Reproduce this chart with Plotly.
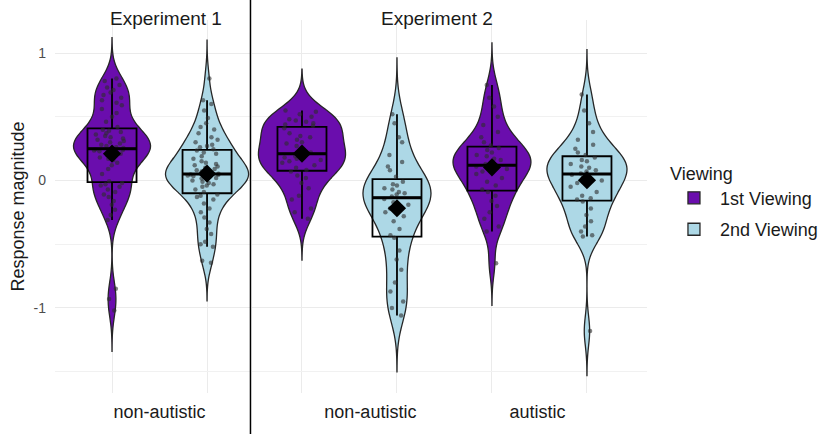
import numpy as np
import plotly.graph_objects as go

# ---- data -------------------------------------------------------------
experiments = ["Experiment 1", "Experiment 2"]
exp1_groups = ["non-autistic"]
exp2_groups = ["non-autistic", "autistic"]
viewings = ["1st Viewing", "2nd Viewing"]

# response magnitude per participant
exp1_nonaut_1st = [-1.02, -0.93, -0.85, -0.31, -0.27, -0.23, -0.19, -0.16, -0.13, -0.11, -0.09, -0.07,
                   -0.05, -0.04, -0.03, -0.02, -0.005, 0.05, 0.09, 0.12, 0.14, 0.16, 0.17, 0.18,
                   0.19, 0.20, 0.21, 0.22, 0.23, 0.235, 0.24, 0.245, 0.255, 0.26, 0.27, 0.28,
                   0.29, 0.30, 0.31, 0.32, 0.33, 0.34, 0.35, 0.36, 0.37, 0.38, 0.39, 0.398,
                   0.42, 0.46, 0.50, 0.53, 0.56, 0.59, 0.61, 0.63, 0.65, 0.67, 0.69, 0.71,
                   0.73, 0.75, 0.78, 0.80]
exp1_nonaut_2nd = [-0.645, -0.63, -0.52, -0.50, -0.48, -0.42, -0.38, -0.33, -0.29, -0.25, -0.22, -0.18,
                   -0.15, -0.13, -0.12, -0.11, -0.09, -0.07, -0.05, -0.04, -0.03, -0.02, -0.01, 0.00,
                   0.01, 0.015, 0.02, 0.03, 0.035, 0.04, 0.045, 0.048, 0.052, 0.06, 0.07, 0.08,
                   0.09, 0.10, 0.11, 0.12, 0.13, 0.14, 0.15, 0.17, 0.19, 0.21, 0.22, 0.235,
                   0.245, 0.26, 0.27, 0.28, 0.30, 0.32, 0.34, 0.37, 0.40, 0.42, 0.45, 0.49,
                   0.55, 0.60, 0.63, 0.80]
exp2_nonaut_1st = [-0.30, -0.25, -0.22, -0.15, -0.12, -0.06, -0.02, 0.02, 0.04, 0.07,
                   0.083, 0.10, 0.12, 0.14, 0.15, 0.16, 0.17, 0.18, 0.19, 0.20,
                   0.22, 0.24, 0.27, 0.29, 0.30, 0.32, 0.34, 0.35, 0.37, 0.41,
                   0.43, 0.44, 0.45, 0.46, 0.47, 0.48, 0.50, 0.52, 0.54, 0.55]
exp2_nonaut_2nd = [-1.06, -1.00, -0.95, -0.87, -0.80, -0.70, -0.62, -0.55, -0.45,
                   -0.43, -0.38, -0.32, -0.28, -0.25, -0.22, -0.19, -0.17, -0.145,
                   -0.125, -0.11, -0.10, -0.09, -0.07, -0.06, -0.04, -0.03, -0.01,
                   0.03, 0.08, 0.11, 0.145, 0.20, 0.30, 0.34, 0.45, 0.52]
exp2_aut_1st = [-0.65, -0.40, -0.36, -0.30, -0.25, -0.20, -0.16, -0.12, -0.09,
                -0.07, -0.04, -0.01, 0.02, 0.05, 0.07, 0.09, 0.10, 0.11,
                0.13, 0.14, 0.16, 0.17, 0.19, 0.20, 0.22, 0.24, 0.255,
                0.275, 0.30, 0.34, 0.38, 0.435, 0.50, 0.58, 0.65, 0.75]
exp2_aut_2nd = [-1.18, -0.44, -0.43, -0.40, -0.36, -0.32, -0.27, -0.22, -0.165,
                -0.15, -0.14, -0.12, -0.09, -0.05, -0.02, 0.00, 0.02, 0.045,
                0.055, 0.07, 0.08, 0.10, 0.11, 0.13, 0.15, 0.16, 0.18,
                0.20, 0.22, 0.25, 0.28, 0.32, 0.38, 0.45, 0.55, 0.675]

# ---- styling ----------------------------------------------------------
FILL = {"1st Viewing": "#6A0DAD", "2nd Viewing": "#ADD8E6"}
OUTLINE = "#262626"
DODGE = 0.25            # offset of each viewing from its group centre
BOX_W = 0.258           # inner box width (data units)
FONT = "Liberation Sans, Arial, sans-serif"

panels = [
    dict(xaxis="x", groups=exp1_groups,
         series=[[exp1_nonaut_1st, exp1_nonaut_2nd]],
         bw=[[0.107, 0.100]], width=[[0.405, 0.437]]),
    dict(xaxis="x2", groups=exp2_groups,
         series=[[exp2_nonaut_1st, exp2_nonaut_2nd], [exp2_aut_1st, exp2_aut_2nd]],
         bw=[[0.108, 0.147], [0.110, 0.117]], width=[[0.458, 0.358], [0.410, 0.421]]),
]

fig = go.Figure()
shown = set()
for panel in panels:
    mean_x, mean_y, grid_x = [], [], []
    med_x, med_y = [], []
    for gi, group in enumerate(panel["groups"]):
        centre = gi + 1
        for vi, viewing in enumerate(viewings):
            vals = panel["series"][gi][vi]
            bw = panel["bw"][gi][vi]
            w = panel["width"][gi][vi]
            pos = centre + (vi - 0.5) * 2 * DODGE
            grid_x.append(pos)
            fig.add_trace(go.Violin(
                x0=pos, y=vals, xaxis=panel["xaxis"], yaxis="y",
                name=viewing, legendgroup=viewing,
                showlegend=viewing not in shown,
                fillcolor=FILL[viewing], line=dict(color=OUTLINE, width=1.3),
                width=w, bandwidth=bw, spanmode="manual",
                span=[min(vals) - 3 * bw, max(vals) + 3 * bw],
                scalemode="width",
                points="all", pointpos=0, jitter=0.5,
                marker=dict(color="rgba(45,45,45,0.6)", size=4.5, line=dict(width=0)),
                box=dict(visible=True, width=BOX_W / w, fillcolor="rgba(0,0,0,0)",
                         line=dict(color="black", width=1.8)),
                meanline=dict(visible=False), hoverinfo="skip",
            ))
            shown.add(viewing)
            mean_x.append(pos)
            mean_y.append(float(np.mean(vals)))
            med = float(np.median(vals))
            med_x += [pos - BOX_W / 2, pos + BOX_W / 2, None]
            med_y += [med, med, None]
    # bold median bars
    fig.add_trace(go.Scatter(
        x=med_x, y=med_y, xaxis=panel["xaxis"], yaxis="y", mode="lines",
        line=dict(color="black", width=3), showlegend=False, hoverinfo="skip"))
    # group means
    fig.add_trace(go.Scatter(
        x=mean_x, y=mean_y, xaxis=panel["xaxis"], yaxis="y", mode="markers",
        marker=dict(symbol="diamond", size=14, color="black"),
        showlegend=False, hoverinfo="skip"))
    panel["grid_x"] = grid_x

grid = "#EBEBEB"
axis_common = dict(type="linear", showgrid=False, zeroline=False, showline=False, ticks="",
                   tickfont=dict(size=18, color="#1a1a1a"), ticklabelstandoff=6, anchor="y")

fig.update_layout(
    width=821, height=434,
    margin=dict(l=55, r=174, t=20, b=41, autoexpand=False),
    paper_bgcolor="white", plot_bgcolor="white",
    font=dict(family=FONT, color="#1a1a1a"),
    violinmode="overlay",
    xaxis=dict(domain=[0, 0.3294], range=[0.45, 1.476],
               tickvals=[1], ticktext=exp1_groups,
               minor=dict(tickvals=panels[0]["grid_x"], showgrid=True, gridcolor=grid,
                          gridwidth=1, ticks=""),
               **axis_common),
    xaxis2=dict(domain=[0.3328, 1], range=[0.487, 2.566],
                tickvals=[1.11, 1.99], ticktext=exp2_groups,
                minor=dict(tickvals=panels[1]["grid_x"], showgrid=True, gridcolor=grid,
                           gridwidth=1, ticks=""),
                **axis_common),
    yaxis=dict(range=[-1.667, 1.259], tickvals=[-1, 0, 1], ticktext=["-1", "0", "1"],
               showgrid=True, gridcolor=grid, gridwidth=1, zeroline=False, ticks="",
               minor=dict(tickvals=[-1.5, -0.5, 0.5], showgrid=True, gridcolor="#F1F1F1",
                          gridwidth=1, ticks=""),
               tickfont=dict(size=14, color="#4D4D4D"), ticklabelstandoff=8,
               title=dict(text="Response magnitude", font=dict(size=18, color="#1a1a1a"),
                          standoff=4)),
    legend=dict(xref="container", yref="container", x=0.8136, y=0.64,
                xanchor="left", yanchor="top",
                title=dict(text="Viewing", font=dict(size=18)), itemwidth=42,
                tracegroupgap=5,
                font=dict(size=18), bgcolor="rgba(0,0,0,0)"),
    shapes=[dict(type="line", xref="paper", yref="paper", x0=0.3302, x1=0.3302,
                 y0=-0.12, y1=1.07, line=dict(color="black", width=1.5))],
    annotations=[
        dict(text=experiments[0], x=0.1875, y=1.005, xref="paper", yref="paper",
             showarrow=False, font=dict(size=19), xanchor="center", yanchor="middle"),
        dict(text=experiments[1], x=0.645, y=1.005, xref="paper", yref="paper",
             showarrow=False, font=dict(size=19), xanchor="center", yanchor="middle"),
    ],
)

fig.write_html("out.html")
